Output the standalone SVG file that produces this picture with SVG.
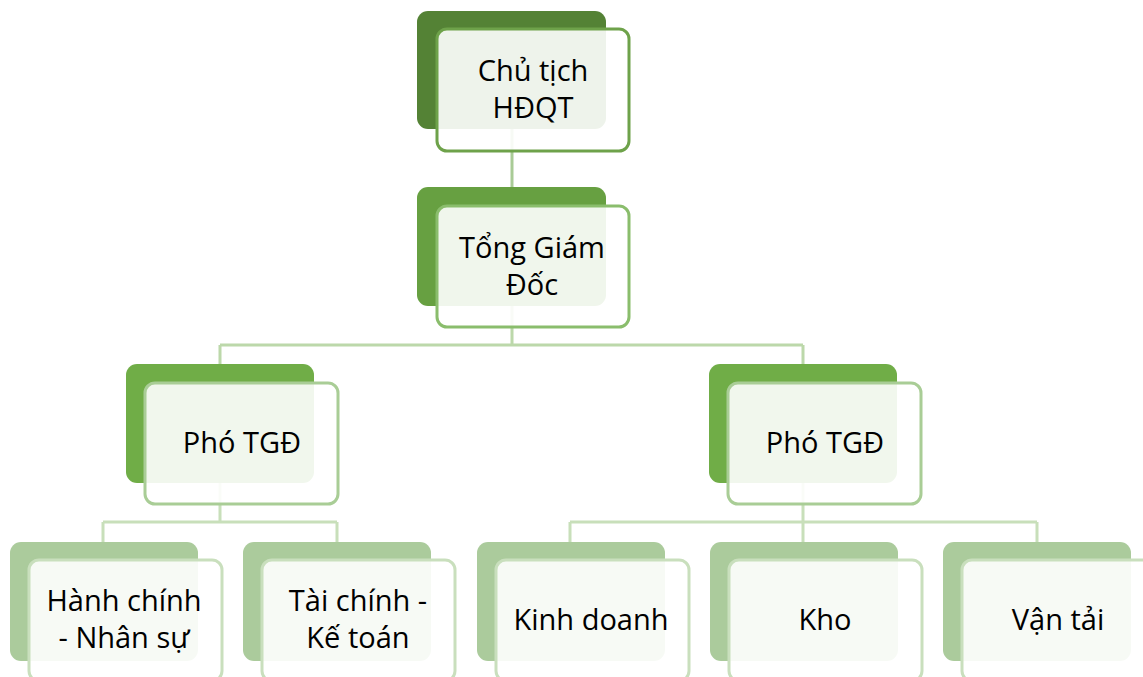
<svg xmlns="http://www.w3.org/2000/svg" width="1143" height="677" viewBox="0 0 1143 677">
<style>
.bk{stroke:none}
.fr{fill:#ffffff;fill-opacity:0.9;stroke-width:3}
.t{font-family:"Open Sans","Liberation Sans",sans-serif;font-size:29px;fill:#000;text-anchor:middle}
.c{fill:none;stroke-width:3}
</style>
<rect width="1143" height="677" fill="#ffffff"/>
<g id="connectors">
<path class="c" stroke="#a9cb96" d="M512 129V188"/>
<path class="c" stroke="#bcd8aa" d="M512 306V345M220 345H803M220 345V364M803 345V364"/>
<path class="c" stroke="#c8dfba" d="M220 483V522M103 522H337M103 522V542M337 522V542"/>
<path class="c" stroke="#c8dfba" d="M803 483V522M570 522H1037M570 522V542M803 522V542M1037 522V542"/>
</g>
<g id="n-chutich">
<rect class="bk" x="417" y="11" width="189" height="118" rx="11" fill="#548235"/>
<rect class="fr" x="437" y="29" width="192" height="122" rx="10" stroke="#6ea24a"/>
<text class="t" x="533" y="81">Chủ tịch</text>
<text class="t" x="533" y="118">HĐQT</text>
</g>
<g id="n-tgd">
<rect class="bk" x="417" y="187" width="189" height="119" rx="11" fill="#67a041"/>
<rect class="fr" x="437" y="206" width="192" height="121" rx="10" stroke="#8abd6c"/>
<text class="t" x="532" y="258">Tổng Giám</text>
<text class="t" x="532" y="295">Đốc</text>
</g>
<g id="n-pho1">
<rect class="bk" x="126" y="364" width="188" height="119" rx="11" fill="#70ad47"/>
<rect class="fr" x="145" y="383" width="193" height="121" rx="10" stroke="#a9cd96"/>
<text class="t" x="242" y="453">Phó TGĐ</text>
</g>
<g id="n-pho2">
<rect class="bk" x="709" y="364" width="188" height="119" rx="11" fill="#70ad47"/>
<rect class="fr" x="728" y="383" width="193" height="121" rx="10" stroke="#a9cd96"/>
<text class="t" x="825" y="453">Phó TGĐ</text>
</g>
<g id="n-hcns">
<rect class="bk" x="10" y="542" width="188" height="119" rx="11" fill="#abcb9c"/>
<rect class="fr" x="29" y="560" width="193" height="121" rx="10" stroke="#c9dfbd"/>
<text class="t" x="124" y="611">Hành chính</text>
<text class="t" x="124" y="648">- Nhân sự</text>
</g>
<g id="n-tckt">
<rect class="bk" x="243" y="542" width="188" height="119" rx="11" fill="#abcb9c"/>
<rect class="fr" x="262" y="560" width="193" height="121" rx="10" stroke="#c9dfbd"/>
<text class="t" x="358" y="611">Tài chính -</text>
<text class="t" x="358" y="648">Kế toán</text>
</g>
<g id="n-kd">
<rect class="bk" x="477" y="542" width="188" height="119" rx="11" fill="#abcb9c"/>
<rect class="fr" x="496" y="560" width="193" height="121" rx="10" stroke="#c9dfbd"/>
<text class="t" x="591" y="630">Kinh doanh</text>
</g>
<g id="n-kho">
<rect class="bk" x="710" y="542" width="188" height="119" rx="11" fill="#abcb9c"/>
<rect class="fr" x="729" y="560" width="193" height="121" rx="10" stroke="#c9dfbd"/>
<text class="t" x="825" y="630">Kho</text>
</g>
<g id="n-vt">
<rect class="bk" x="943" y="542" width="188" height="119" rx="11" fill="#abcb9c"/>
<rect class="fr" x="962" y="560" width="193" height="121" rx="10" stroke="#c9dfbd"/>
<text class="t" x="1058" y="630">Vận tải</text>
</g>
</svg>
